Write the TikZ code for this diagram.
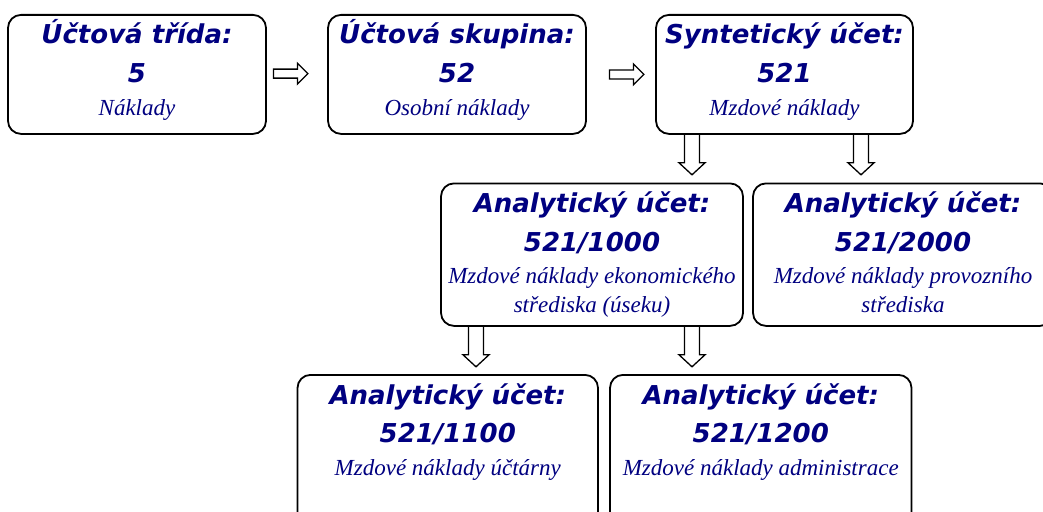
\documentclass[tikz,border=0pt]{standalone}
\usepackage{fontspec}
\setmainfont{Liberation Serif}
\newfontfamily\headfont{DejaVu Sans}
\usetikzlibrary{calc}
\definecolor{navy}{RGB}{0,0,128}
\tikzset{
  acc/.style={draw=black, line width=1.8pt, rounded corners=13pt, inner sep=0pt},
  head/.style={anchor=base, text=navy, inner sep=0pt,
    font=\headfont\bfseries\itshape\fontsize{26}{30}\selectfont},
  desc/.style={anchor=base, text=navy, inner sep=0pt,
    font=\itshape\fontsize{23}{27}\selectfont},
  hollow/.style={draw=black, line width=1.3pt, line join=miter},
}
% #1 name, #2 centre x, #3 top y, #4 width, #5 height,
% #6 heading, #7 account number, #8 description
\newcommand\account[8]{%
  \node[acc, minimum width=#4pt, minimum height=#5pt, anchor=north] (#1) at (#2,#3) {};
  \node[head] (#1-h) at ($(#1.north)+(0,30)$) {#6};
  \node[head] (#1-n) at ($(#1.north)+(0,68.5)$) {#7};
  \node[desc] (#1-d) at ($(#1.north)+(0,101)$) {#8};
}
\begin{document}
\begin{tikzpicture}[x=1pt, y=-1pt]
\useasboundingbox (0,0) rectangle (1043,511);

% account hierarchy
\account{b1}{137}{14}{258}{119}{Účtová třída:}{5}{Náklady}
\account{b2}{457}{14}{258}{119}{Účtová skupina:}{52}{Osobní náklady}
\account{b3}{784.5}{14}{257}{119}{Syntetický účet:}{521}{Mzdové náklady}
\account{b4}{592}{182.5}{302}{142.5}{Analytický účet:}{521/1000}{Mzdové náklady ekonomického}
\node[desc] (b4-d2) at ($(b4.north)+(0,130)$) {střediska (úseku)};
\account{b5}{903}{182.5}{300}{142.5}{Analytický účet:}{521/2000}{Mzdové náklady provozního}
\node[desc] (b5-d2) at ($(b5.north)+(0,130)$) {střediska};
\account{b6}{447.75}{374}{300.5}{150}{Analytický účet:}{521/1100}{Mzdové náklady účtárny}
\account{b7}{760.75}{374}{301.5}{150}{Analytický účet:}{521/1200}{Mzdové náklady administrace}

% hollow arrows to the right
\draw[hollow] ($(b1.east)+(6.5,-0.8)$) coordinate (r1)
  ++(0,-4.5) -- ++(24,0) -- ++(0,-6) -- ++(10.5,10.5) -- ++(-10.5,10.5)
  -- ++(0,-6) -- ++(-24,0) -- cycle;
\draw[hollow] ($(b2.east)+(22.5,0)$) coordinate (r2)
  ++(0,-4.5) -- ++(24,0) -- ++(0,-6) -- ++(10.5,10.5) -- ++(-10.5,10.5)
  -- ++(0,-6) -- ++(-24,0) -- cycle;

% hollow arrows downwards
\draw[hollow] ($(b3.south)+(-92.5,0)$) coordinate (d1)
  ++(-7.5,0) -- ++(0,28) -- ++(-5.5,0) -- ++(13,12) -- ++(13,-12)
  -- ++(-5.5,0) -- ++(0,-28);
\draw[hollow] ($(b3.south)+(76.5,0)$) coordinate (d2)
  ++(-7.5,0) -- ++(0,28) -- ++(-5.5,0) -- ++(13,12) -- ++(13,-12)
  -- ++(-5.5,0) -- ++(0,-28);
\draw[hollow] ($(b4.south)+(-116,0)$) coordinate (d3)
  ++(-7.5,0) -- ++(0,28) -- ++(-5.5,0) -- ++(13,12) -- ++(13,-12)
  -- ++(-5.5,0) -- ++(0,-28);
\draw[hollow] ($(b4.south)+(100,0)$) coordinate (d4)
  ++(-7.5,0) -- ++(0,28) -- ++(-5.5,0) -- ++(13,12) -- ++(13,-12)
  -- ++(-5.5,0) -- ++(0,-28);
\end{tikzpicture}
\end{document}
